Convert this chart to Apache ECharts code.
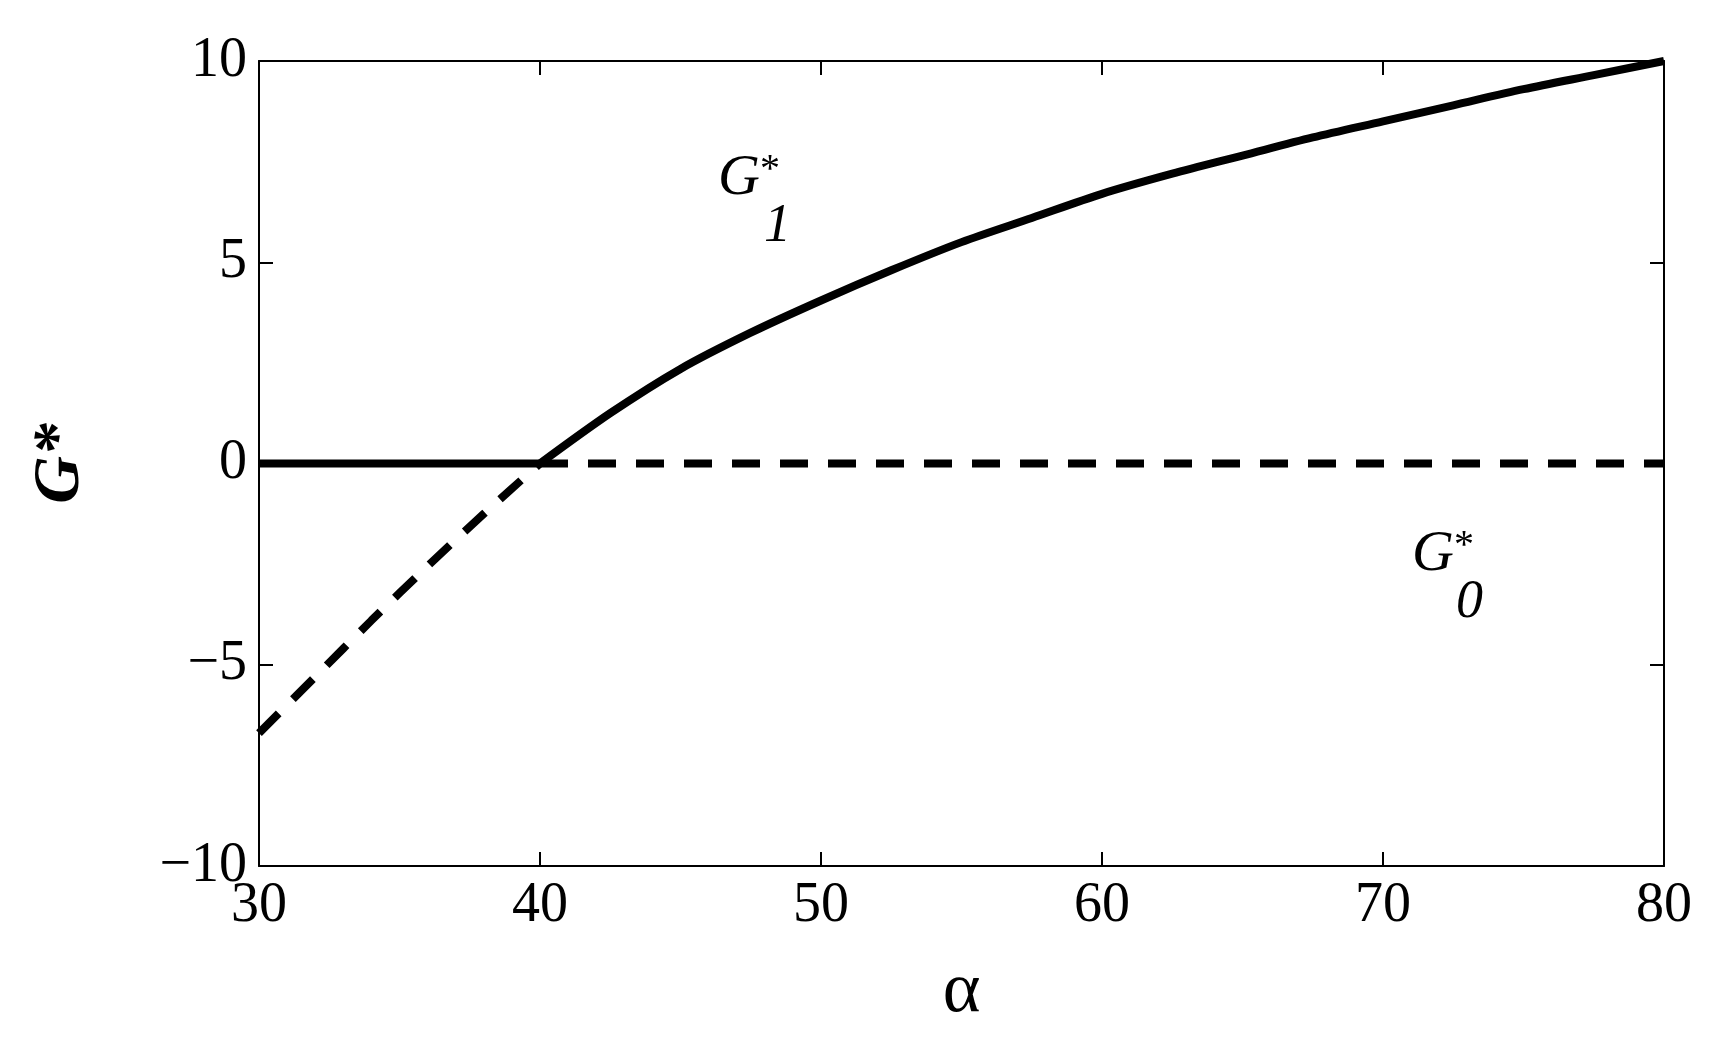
<!DOCTYPE html>
<html><head><meta charset="utf-8">
<script src="https://cdn.jsdelivr.net/npm/echarts@6/dist/echarts.min.js"></script>
<style>html,body{margin:0;background:#fff}#c{width:1724px;height:1058px}</style>
</head><body><div id="c"></div>
<script>
// alpha vs G* (solid = stable branch, dashed = unstable)
const g1Flat = [[30, 0], [40, 0]];
const g1Rising = [[40, 0], [42.5, 1.25], [45, 2.35], [47.5, 3.25], [50, 4.05], [52.5, 4.8], [55, 5.5], [57.5, 6.1], [60, 6.7], [62.5, 7.2], [65, 7.65], [67.5, 8.1], [70, 8.5], [72.5, 8.9], [75, 9.3], [77.5, 9.65], [80, 10]];
const g0Curve = [[30, -6.7], [32, -5.3], [34, -3.9], [36, -2.55], [38, -1.25], [40, 0]];
const g0Flat = [[40, 0], [80, 0]];

const font = 'Liberation Serif';
const chart = echarts.init(document.getElementById('c'));
const axisCommon = {
  axisLine: { show: true, onZero: false, lineStyle: { color: '#000', width: 2 } },
  axisTick: { inside: true, length: 14, lineStyle: { color: '#000', width: 2 } },
  splitLine: { show: false },
  axisLabel: { color: '#000', fontFamily: font, fontSize: 56, margin: 12,
    formatter: v => String(v).replace('-', '\u2212') }
};
const solid = { color: '#000', width: 8 };
const dashed = { color: '#000', width: 8, type: [28, 20] };
chart.setOption({
  animation: false,
  grid: { left: 259, right: 60, top: 61, bottom: 192 },
  xAxis: [
    Object.assign({ type: 'value', min: 30, max: 80, interval: 10, name: '\u03b1',
      nameLocation: 'middle', nameGap: 90,
      nameTextStyle: { color: '#000', fontFamily: font, fontSize: 72 } }, axisCommon),
    Object.assign({}, axisCommon, { type: 'value', min: 30, max: 80, interval: 10, position: 'top', axisLabel: { show: false } })
  ],
  yAxis: [
    Object.assign({ type: 'value', min: -10, max: 10, interval: 5, name: 'G*',
      nameLocation: 'middle', nameGap: 165, nameRotate: 90,
      nameTextStyle: { color: '#000', fontFamily: font, fontSize: 66, fontStyle: 'italic', fontWeight: 'bold' } }, axisCommon),
    Object.assign({}, axisCommon, { type: 'value', min: -10, max: 10, interval: 5, position: 'right', axisLabel: { show: false } })
  ],
  series: [
    { type: 'line', data: g0Curve, symbol: 'none', smooth: 0.3, lineStyle: dashed },
    { type: 'line', data: g0Flat, symbol: 'none', lineStyle: dashed },
    { type: 'line', data: g1Flat, symbol: 'none', lineStyle: solid },
    { type: 'line', data: g1Rising, symbol: 'none', smooth: 0.3, lineStyle: solid }
  ],
  graphic: [
    { type: 'text', left: 718, top: 150, style: { text: '{g|G}{s|*}', rich: {
      g: { fontFamily: font, fontSize: 58, fontStyle: 'italic', fill: '#000' },
      s: { fontFamily: font, fontSize: 40, fill: '#000', verticalAlign: 'top' } } } },
    { type: 'text', left: 764, top: 200, style: { text: '1', fontFamily: font, fontSize: 54, fontStyle: 'italic', fill: '#000' } },
    { type: 'text', left: 1412, top: 526, style: { text: '{g|G}{s|*}', rich: {
      g: { fontFamily: font, fontSize: 58, fontStyle: 'italic', fill: '#000' },
      s: { fontFamily: font, fontSize: 40, fill: '#000', verticalAlign: 'top' } } } },
    { type: 'text', left: 1456, top: 576, style: { text: '0', fontFamily: font, fontSize: 54, fontStyle: 'italic', fill: '#000' } }
  ]
});
</script></body></html>
